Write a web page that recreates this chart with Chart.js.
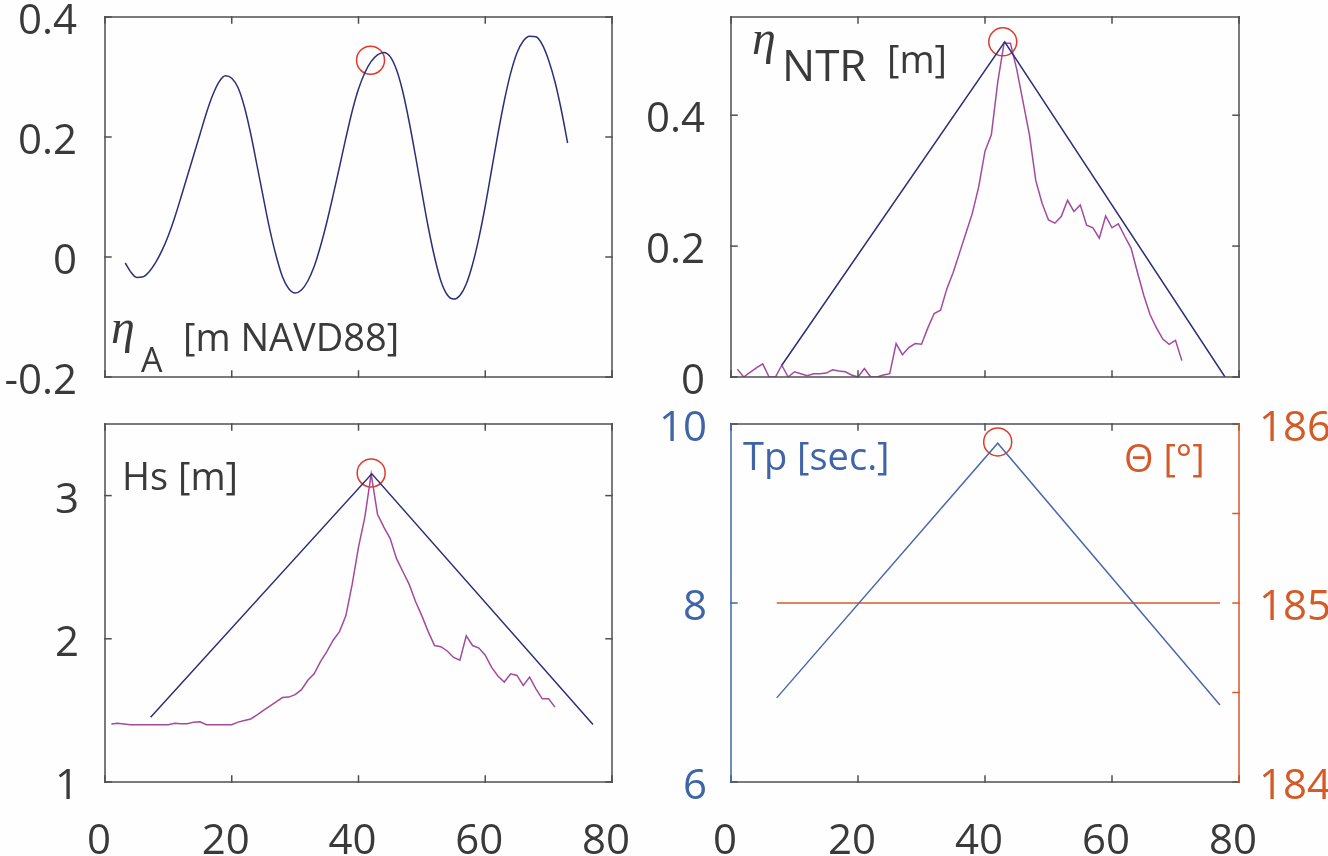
<!DOCTYPE html>
<html><head><meta charset="utf-8">
<script src="https://cdn.jsdelivr.net/npm/chart.js@4.4.1/dist/chart.umd.min.js"></script>
<style>
html,body{margin:0;padding:0;background:#fefefe;}
#wrap{position:relative;width:1328px;height:856px;overflow:hidden;background:#fefefe;}
canvas{position:absolute;}
</style></head><body><div id="wrap">
<canvas id="c1" width="640" height="400" style="left:0;top:0"></canvas>
<canvas id="c2" width="708" height="400" style="left:620px;top:0"></canvas>
<canvas id="c3" width="640" height="456" style="left:0;top:400px"></canvas>
<canvas id="c4" width="708" height="456" style="left:620px;top:400px"></canvas>
</div>
<script>
// ---------- DATA ----------
const xTicksStep = 20;
// Panel 1: astronomical tide eta_A [m NAVD88]
const tideX = [3.2,4,5,6,7,8,9,10,11,12,13,14,15,16,17,18,19,20,21,22,23,24,25,26,27,28,29,30,31,32,33,34,35,36,37,38,39,40,41,42,43,44,45,46,47,48,49,50,51,52,53,54,55,56,57,58,59,60,61,62,63,64,65,66,67,68,69,70,71,72,73];
const tideY = [-0.010,-0.024,-0.034,-0.033,-0.024,-0.009,0.011,0.036,0.066,0.100,0.135,0.170,0.205,0.240,0.270,0.292,0.302,0.298,0.282,0.250,0.205,0.152,0.098,0.046,0.002,-0.033,-0.053,-0.060,-0.055,-0.040,-0.016,0.018,0.058,0.103,0.150,0.198,0.243,0.280,0.307,0.326,0.337,0.341,0.334,0.312,0.275,0.225,0.168,0.108,0.050,0.000,-0.040,-0.063,-0.070,-0.064,-0.045,-0.012,0.032,0.085,0.145,0.205,0.260,0.306,0.340,0.360,0.368,0.367,0.354,0.328,0.292,0.245,0.190];
const tidePeak = {x:41.9, y:0.328};

// Panel 2: non-tidal residual eta_NTR [m]
const ntrTriX = [8.0, 43.1, 77.8];
const ntrTriY = [0.018, 0.512, 0.0];
const ntrX = [1,2,3,4,5,6,7,8,9,10,11,12,13,14,15,16,17,18,19,20,21,22,23,24,25,26,27,28,29,30,31,32,33,34,35,36,37,38,39,40,41,42,43,44,45,46,47,48,49,50,51,52,53,54,55,56,57,58,59,60,61,62,63,64,65,66,67,68,69,70,71];
const ntrY = [0.012,0.0,0.007,0.014,0.020,0.0,0.0,0.018,0.0,0.008,0.005,0.002,0.005,0.005,0.006,0.011,0.009,0.008,0.003,0.0,0.013,0.0,0.0,0.003,0.005,0.051,0.034,0.045,0.051,0.050,0.075,0.097,0.102,0.135,0.160,0.190,0.220,0.250,0.290,0.345,0.370,0.450,0.510,0.510,0.470,0.420,0.370,0.300,0.265,0.240,0.235,0.245,0.270,0.253,0.263,0.232,0.228,0.212,0.246,0.228,0.234,0.215,0.197,0.160,0.125,0.095,0.075,0.058,0.050,0.056,0.025];
const ntrPeak = {x:42.8, y:0.512};

// Panel 3: significant wave height Hs [m]
const hsTriX = [7.2, 42.1, 77.0];
const hsTriY = [1.453, 3.152, 1.402];
const hsX = [1,2,3,4,5,6,7,8,9,10,11,12,13,14,15,16,17,18,19,20,21,22,23,24,25,26,27,28,29,30,31,32,33,34,35,36,37,38,39,40,41,42,43,44,45,46,47,48,49,50,51,52,53,54,55,56,57,58,59,60,61,62,63,64,65,66,67,68,69,70,71];
const hsY = [1.405,1.410,1.405,1.400,1.400,1.400,1.400,1.400,1.400,1.400,1.410,1.407,1.407,1.418,1.420,1.400,1.400,1.400,1.400,1.400,1.418,1.430,1.440,1.468,1.500,1.530,1.560,1.590,1.593,1.610,1.645,1.710,1.755,1.840,1.910,1.990,2.050,2.160,2.380,2.640,2.850,3.150,2.870,2.780,2.700,2.560,2.470,2.380,2.260,2.160,2.050,1.953,1.945,1.915,1.870,1.850,2.020,1.953,1.935,1.885,1.800,1.740,1.698,1.756,1.744,1.674,1.733,1.651,1.581,1.581,1.523];
const hsPeak = {x:42.0, y:3.158};

// Panel 4: peak period Tp [sec.] and direction Theta [deg]
const tpX = [7.2, 42.0, 77.0];
const tpY = [6.94, 9.785, 6.86];
const dirX = [7.2, 77.0];
const dirY = [185, 185];
const tpPeak = {x:42.0, y:9.8};

// ---------- STYLE ----------
const NAVY = '#2c2f78', PURPLE = '#a34a9e', RED = '#e0392c';
const BLUE = '#4064a8', ORANGE = '#d45a28', GRAY = '#4f4f4f', TXT = '#3a3a3a';
const TICKFONT = {family:'"Open Sans"', size:42};

const pts = (xs, ys) => xs.map((x,i)=>({x, y:ys[i]}));
const fmt = v => String(Math.round(v*100)/100);
const noPad = s => { s.paddingTop = 0; s.paddingBottom = 0; s.paddingLeft = 0; s.paddingRight = 0; };

const framePlugin = {
  id:'frame',
  afterDatasetsDraw(chart, args, o){
    const ctx = chart.ctx, a = chart.chartArea, L = 6;
    ctx.save(); ctx.lineWidth = 1.5; ctx.lineCap = 'square';
    const line=(x1,y1,x2,y2,c)=>{ctx.strokeStyle=c;ctx.beginPath();ctx.moveTo(x1,y1);ctx.lineTo(x2,y2);ctx.stroke();};
    const xs = chart.scales.x;
    xs.ticks.forEach(t=>{const p=xs.getPixelForValue(t.value); line(p,a.bottom,p,a.bottom-L,o.bottom); line(p,a.top,p,a.top+L,o.top);});
    const yl = chart.scales.y, y2 = chart.scales.y2;
    yl.ticks.forEach(t=>{const p=yl.getPixelForValue(t.value); line(a.left,p,a.left+L,p,o.left); if(!y2) line(a.right,p,a.right-L,p,o.right);});
    if (y2) y2.ticks.forEach(t=>{const p=y2.getPixelForValue(t.value); line(a.right,p,a.right-L,p,o.right);});
    line(a.left,a.top,a.right,a.top,o.top);
    line(a.left,a.bottom,a.right,a.bottom,o.bottom);
    line(a.left,a.top,a.left,a.bottom,o.left);
    line(a.right,a.top,a.right,a.bottom,o.right);
    ctx.restore();
  }
};
const textPlugin = {
  id:'labels',
  afterDraw(chart, args, o){
    const ctx = chart.ctx; ctx.save();
    ctx.textBaseline='alphabetic'; ctx.textAlign='left';
    (o.items||[]).forEach(it=>{ctx.font=it.font; ctx.fillStyle=it.color; ctx.fillText(it.t,it.x,it.y);});
    ctx.restore();
  }
};

function lineDs(data, color, extra){
  return Object.assign({type:'line', data, borderColor:color, borderWidth:1.5, pointRadius:0, fill:false, tension:0}, extra||{});
}
function circleDs(p){
  return {type:'scatter', data:[p], pointRadius:14, pointStyle:'circle', borderColor:RED, borderWidth:1.5, backgroundColor:'rgba(0,0,0,0)', clip:false, pointHoverRadius:14};
}

function makeChart(id, o){
  const scales = {
    x:{type:'linear', min:0, max:80, position:'bottom',
       grid:{display:false, drawTicks:false}, border:{display:false},
       ticks:{stepSize:xTicksStep, display:o.xLabels, font:TICKFONT, color:TXT, padding:o.xPad||0, labelOffset:-6, maxRotation:0, autoSkip:false},
       afterFit:s=>{s.height=o.xH; noPad(s);}},
    y:{type:'linear', min:o.ymin, max:o.ymax, position:'left',
       grid:{display:false, drawTicks:false}, border:{display:false},
       ticks:{stepSize:o.ystep, includeBounds:false, font:TICKFONT, color:o.yColor||TXT, padding:o.yPad, labelOffset:5, callback:o.yCb||fmt},
       afterFit:s=>{s.width=o.yW; noPad(s);}}
  };
  if (o.y2) scales.y2 = o.y2;
  return new Chart(document.getElementById(id), {
    type:'line',
    data:{datasets:o.datasets},
    options:{
      responsive:false, animation:false, devicePixelRatio:1,
      layout:{padding:o.pad, autoPadding:false},
      scales,
      plugins:{legend:{display:false}, tooltip:{enabled:false}, frame:o.frame, labels:{items:o.texts}}
    },
    plugins:[framePlugin, textPlugin]
  });
}

const grayFrame = {top:GRAY, bottom:GRAY, left:GRAY, right:GRAY};

// Panel 1 (canvas at page x 0)
makeChart('c1', {
  ymin:-0.2, ymax:0.4, ystep:0.2, yW:105, yPad:28, xH:23, xLabels:false,
  pad:{top:17, right:28, left:0, bottom:0},
  frame:grayFrame,
  datasets:[lineDs(pts(tideX,tideY), NAVY, {cubicInterpolationMode:'monotone'}), circleDs(tidePeak)],
  texts:[
    {t:'\u03B7', x:111, y:343, font:'italic 48px "Liberation Serif"', color:TXT},
    {t:'A', x:141, y:372, font:'34px "Open Sans"', color:TXT},
    {t:'[m NAVD88]', x:183, y:351, font:'38px "Open Sans"', color:TXT}
  ]
});

// Panel 2 (canvas at page x 620)
makeChart('c2', {
  ymin:0, ymax:0.55, ystep:0.2, yW:111, yPad:26, xH:23, xLabels:false,
  pad:{top:17, right:89, left:0, bottom:0},
  frame:grayFrame,
  datasets:[lineDs(pts(ntrTriX,ntrTriY), NAVY), lineDs(pts(ntrX,ntrY), PURPLE), circleDs(ntrPeak)],
  texts:[
    {t:'\u03B7', x:132, y:54, font:'italic 48px "Liberation Serif"', color:TXT},
    {t:'NTR', x:162, y:81, font:'44px "Open Sans"', color:TXT},
    {t:'[m]', x:267, y:73, font:'38px "Open Sans"', color:TXT}
  ]
});

// Panel 3 (canvas at page 0,400)
makeChart('c3', {
  ymin:1, ymax:3.5, ystep:1, yW:105, yPad:26, xH:74, xLabels:true, xPad:35,
  pad:{top:24, right:28, left:0, bottom:0},
  frame:grayFrame,
  datasets:[lineDs(pts(hsTriX,hsTriY), NAVY), lineDs(pts(hsX,hsY), PURPLE), circleDs(hsPeak)],
  texts:[
    {t:'Hs [m]', x:122, y:90, font:'38px "Open Sans"', color:TXT}
  ]
});

// Panel 4 (canvas at page 620,400)
makeChart('c4', {
  ymin:6, ymax:10, ystep:2, yW:111, yPad:24, xH:74, xLabels:true, xPad:35, yColor:BLUE,
  pad:{top:24, right:0, left:0, bottom:0},
  frame:{top:GRAY, bottom:GRAY, left:BLUE, right:ORANGE},
  y2:{type:'linear', min:184, max:186, position:'right',
      grid:{display:false, drawTicks:false}, border:{display:false},
      ticks:{stepSize:0.5, includeBounds:false, font:TICKFONT, color:ORANGE, padding:20, labelOffset:5,
             callback:v=>Number.isInteger(v)?String(v):''},
      afterFit:s=>{s.width=89; noPad(s);}},
  datasets:[lineDs(pts(tpX,tpY), '#4a69ad', {yAxisID:'y'}),
            lineDs(pts(dirX,dirY), ORANGE, {yAxisID:'y2'}),
            Object.assign(circleDs(tpPeak), {yAxisID:'y'})],
  texts:[
    {t:'Tp [sec.]', x:123, y:70, font:'38px "Open Sans"', color:BLUE},
    {t:'\u0398 [\u00B0]', x:504, y:72, font:'38px "Open Sans"', color:ORANGE}
  ]
});
</script>
</body></html>
